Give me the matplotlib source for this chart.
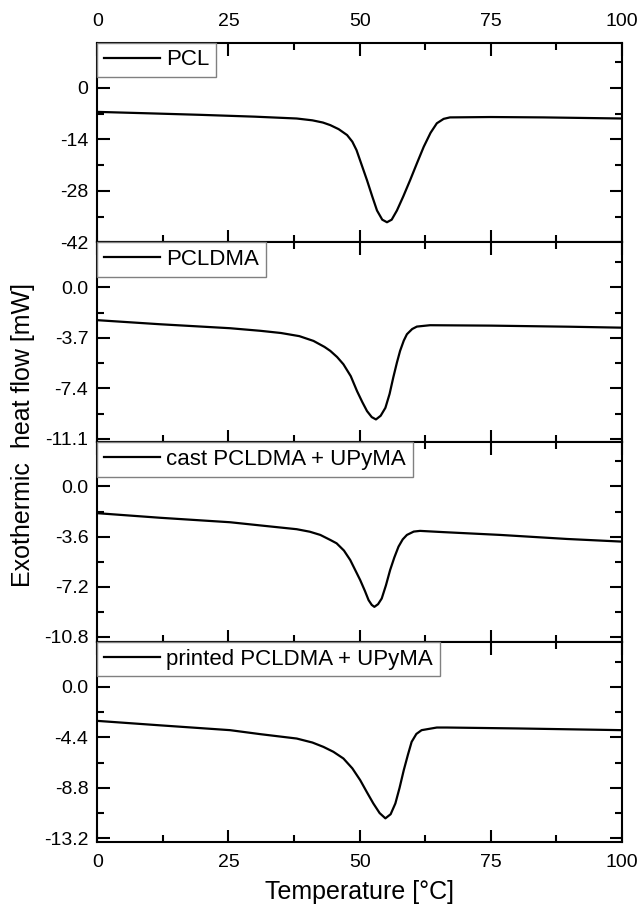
import matplotlib
matplotlib.use("Agg")
import matplotlib.pyplot as plt
from matplotlib.ticker import MultipleLocator, FormatStrFormatter

plt.rcParams["font.family"] = ["Liberation Sans", "DejaVu Sans"]
plt.rcParams["axes.unicode_minus"] = False

# DSC curves (temperature in °C, heat flow in mW)
pcl_t = [0, 10, 19.6, 30, 38, 41, 43, 44.4, 46, 47.6, 48.6, 49.4, 50.4, 51.4, 52.4, 53.3, 54.3, 55.2,
         56.1, 57.1, 58.3, 59.6, 60.9, 62.2, 63.5, 64.7, 66, 67.2, 75, 85, 100]
pcl_q = [-6.5, -6.9, -7.3, -7.8, -8.3, -8.8, -9.4, -10.1, -11.2, -12.8, -14.6, -16.9, -21.0, -25.1,
         -29.5, -33.3, -35.8, -36.5, -35.8, -33.3, -29.5, -25.1, -20.5, -16.0, -12.2, -9.6, -8.4,
         -8.0, -7.9, -8.0, -8.3]

dma_t = [0, 12, 25.3, 31.1, 35, 38.5, 41.2, 43.3, 44.4, 45.7, 46.9, 48.3, 49.5, 50.5, 51.4, 52.3,
         53.1, 54.0, 54.9, 55.7, 56.4, 57.1, 57.7, 58.4, 59.0, 60.0, 60.9, 63.4, 75, 90, 100]
dma_q = [-2.40, -2.70, -2.99, -3.18, -3.34, -3.57, -3.92, -4.36, -4.65, -5.1, -5.63, -6.5, -7.6,
         -8.4, -9.06, -9.5, -9.67, -9.4, -8.82, -7.8, -6.6, -5.5, -4.65, -3.9, -3.43, -3.05, -2.87,
         -2.77, -2.80, -2.88, -2.95]

cast_t = [0, 12, 25.3, 31.1, 38, 40.5, 42.5, 44.4, 45.6, 47, 48.2, 50.1, 51.0, 51.7, 52.3, 52.8,
          53.5, 54.2, 55.0, 55.8, 56.6, 57.4, 58.2, 59.0, 60.3, 61.5, 66, 76.8, 89.5, 100]
cast_q = [-1.92, -2.25, -2.57, -2.8, -3.07, -3.25, -3.48, -3.84, -4.08, -4.6, -5.28, -6.72, -7.5,
          -8.16, -8.5, -8.64, -8.45, -8.04, -7.1, -6.0, -5.1, -4.32, -3.8, -3.48, -3.24, -3.19,
          -3.28, -3.48, -3.77, -3.96]

print_t = [0, 12, 25.3, 31.1, 38, 41, 43.1, 45, 46.9, 48.6, 50.1, 51.4, 52.6, 53.8, 54.9, 55.9,
           56.8, 57.6, 58.4, 59.2, 59.9, 60.8, 61.8, 64.7, 66.6, 80, 100]
print_q = [-2.96, -3.35, -3.77, -4.12, -4.5, -4.85, -5.23, -5.66, -6.24, -7.1, -8.13, -9.2, -10.16,
           -11.0, -11.46, -11.1, -10.16, -8.8, -7.26, -5.9, -4.79, -4.1, -3.77, -3.54, -3.54,
           -3.62, -3.77]

labels = ["PCL", "PCLDMA", "cast PCLDMA + UPyMA", "printed PCLDMA + UPyMA"]
y_steps = [14, 3.7, 3.6, 4.4]
y_limits = [(-42, 12.3), (-11.34, 3.29), (-11.16, 3.17), (-13.5, 3.92)]
y_formats = ["%d", "%.1f", "%.1f", "%.1f"]

curves = [(pcl_t, pcl_q), (dma_t, dma_q), (cast_t, cast_q), (print_t, print_q)]

fig, axes = plt.subplots(4, 1, figsize=(6.4, 9.09), dpi=100, sharex=True,
                         gridspec_kw={"hspace": 0})
fig.subplots_adjust(left=0.152, right=0.972, top=0.953, bottom=0.074)

for i, ax in enumerate(axes):
    t, q = curves[i]
    ax.plot(t, q, color="black", lw=1.6, label=labels[i], solid_joinstyle="round")
    ax.set_xlim(0, 100)
    ax.set_ylim(*y_limits[i])
    ax.xaxis.set_major_locator(MultipleLocator(25))
    ax.xaxis.set_minor_locator(MultipleLocator(12.5))
    ax.yaxis.set_major_locator(MultipleLocator(y_steps[i]))
    ax.yaxis.set_minor_locator(MultipleLocator(y_steps[i] / 2))
    ax.yaxis.set_major_formatter(FormatStrFormatter(y_formats[i]))
    ax.tick_params(which="both", direction="in", top=True, right=True, width=1.5,
                   labelsize=14, labelbottom=(i == 3), labeltop=(i == 0))
    ax.tick_params(which="major", length=9)
    ax.tick_params(which="minor", length=5)
    ax.tick_params(axis="x", which="major", pad=9)
    ax.tick_params(axis="y", which="major", pad=6.5)
    for sp in ax.spines.values():
        sp.set_linewidth(1.5)
    leg = ax.legend(loc="upper left", borderaxespad=0, fancybox=False, fontsize=16,
                    handlelength=2.5, handletextpad=0.3, borderpad=0.3,
                    framealpha=1)
    leg.get_frame().set_edgecolor("#808080")
    leg.get_frame().set_linewidth(1.0)

axes[3].set_xlabel("Temperature [°C]", fontsize=18, labelpad=6)
fig.text(0.036, 0.521, "Exothermic  heat flow [mW]", rotation=90, fontsize=18,
         ha="center", va="center")

fig.savefig("out.png", dpi=100)
